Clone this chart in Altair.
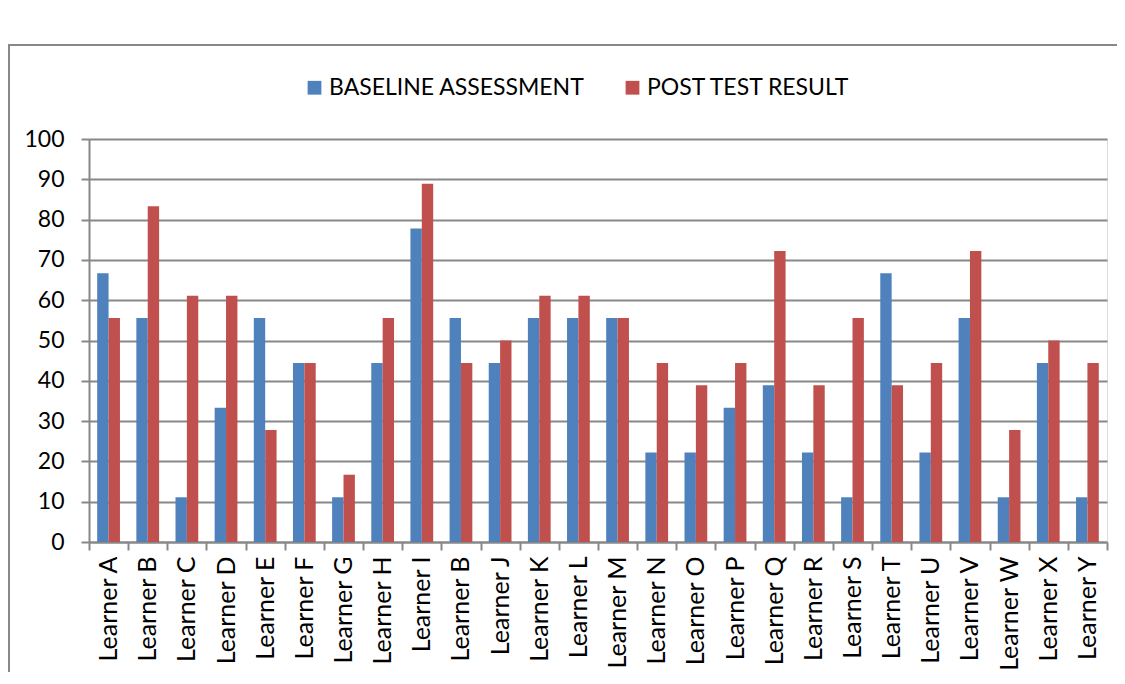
import altair as alt
import pandas as pd

learners = ["Learner A", "Learner B", "Learner C", "Learner D", "Learner E", "Learner F",
            "Learner G", "Learner H", "Learner I", "Learner B", "Learner J", "Learner K",
            "Learner L", "Learner M", "Learner N", "Learner O", "Learner P", "Learner Q",
            "Learner R", "Learner S", "Learner T", "Learner U", "Learner V", "Learner W",
            "Learner X", "Learner Y"]
baseline = [66.7, 55.6, 11.1, 33.3, 55.6, 44.4, 11.1, 44.4, 77.8, 55.6, 44.4, 55.6, 55.6,
            55.6, 22.2, 22.2, 33.3, 38.9, 22.2, 11.1, 66.7, 22.2, 55.6, 11.1, 44.4, 11.1]
post_test = [55.6, 83.3, 61.1, 61.1, 27.8, 44.4, 16.7, 55.6, 88.9, 44.4, 50.0, 61.1, 61.1,
             55.6, 44.4, 38.9, 44.4, 72.2, 38.9, 55.6, 38.9, 44.4, 72.2, 27.8, 50.0, 44.4]
series = ["BASELINE ASSESSMENT", "POST TEST RESULT"]
colors = ["#4F81BD", "#C0504D"]
y_ticks = list(range(0, 101, 10))

rows = []
for i, name in enumerate(learners):
    rows.append({"idx": i, "series": series[0], "value": baseline[i]})
    rows.append({"idx": i, "series": series[1], "value": post_test[i]})
df = pd.DataFrame(rows)

label_list = "[" + ",".join("'" + n + "'" for n in learners) + "]"

W, H = 1018, 403
FONT = "Lato"

bars = alt.Chart(df).mark_bar().encode(
    x=alt.X("idx:O", title=None,
            scale=alt.Scale(paddingInner=0, paddingOuter=0),
            axis=alt.Axis(labelExpr=label_list + "[datum.value]", labelAngle=-90,
                          labelFontSize=25, labelFont=FONT, labelColor="#000000",
                          labelPadding=6, tickBand="extent", tickSize=8,
                          tickColor="#888888", tickWidth=2, domainColor="#888888",
                          domainWidth=2, grid=False, labelBaseline="middle",
                          labelLimit=0)),
    xOffset=alt.XOffset("series:N", scale=alt.Scale(paddingOuter=0.72, paddingInner=0)),
    y=alt.Y("value:Q", title=None,
            scale=alt.Scale(domain=[0, 100], nice=False),
            axis=alt.Axis(values=y_ticks, labelFontSize=23, labelFont=FONT,
                          labelColor="#000000", labelPadding=17, tickSize=8,
                          tickColor="#888888", tickWidth=2, domainColor="#888888",
                          domainWidth=2, gridColor="#888888", gridWidth=2)),
    color=alt.Color("series:N", scale=alt.Scale(domain=series, range=colors),
                    legend=alt.Legend(title=None, orient="none", direction="horizontal",
                                      legendX=214, legendY=-63, symbolType="square",
                                      symbolSize=190, symbolStrokeWidth=0,
                                      labelFontSize=23, labelFont=FONT,
                                      labelColor="#000000", labelOffset=3,
                                      columnPadding=36, padding=0, labelLimit=0)),
)

frame_top = alt.Chart(df).mark_rule(color="#888888", strokeWidth=2).encode(
    x=alt.value(-81), x2=alt.value(W + 12), y=alt.value(-94))
frame_left = alt.Chart(df).mark_rule(color="#888888", strokeWidth=2).encode(
    x=alt.value(-80), y=alt.value(-94), y2=alt.value(H + 140))

chart = alt.layer(frame_top, frame_left, bars).properties(
    width=W, height=H,
    autosize=alt.AutoSizeParams(type="none"),
    padding={"left": 81, "top": 131, "right": 10, "bottom": 130},
).configure_view(stroke=None).configure(background="white")

chart.save("out.html", embed_options={"renderer": "svg", "actions": False})
